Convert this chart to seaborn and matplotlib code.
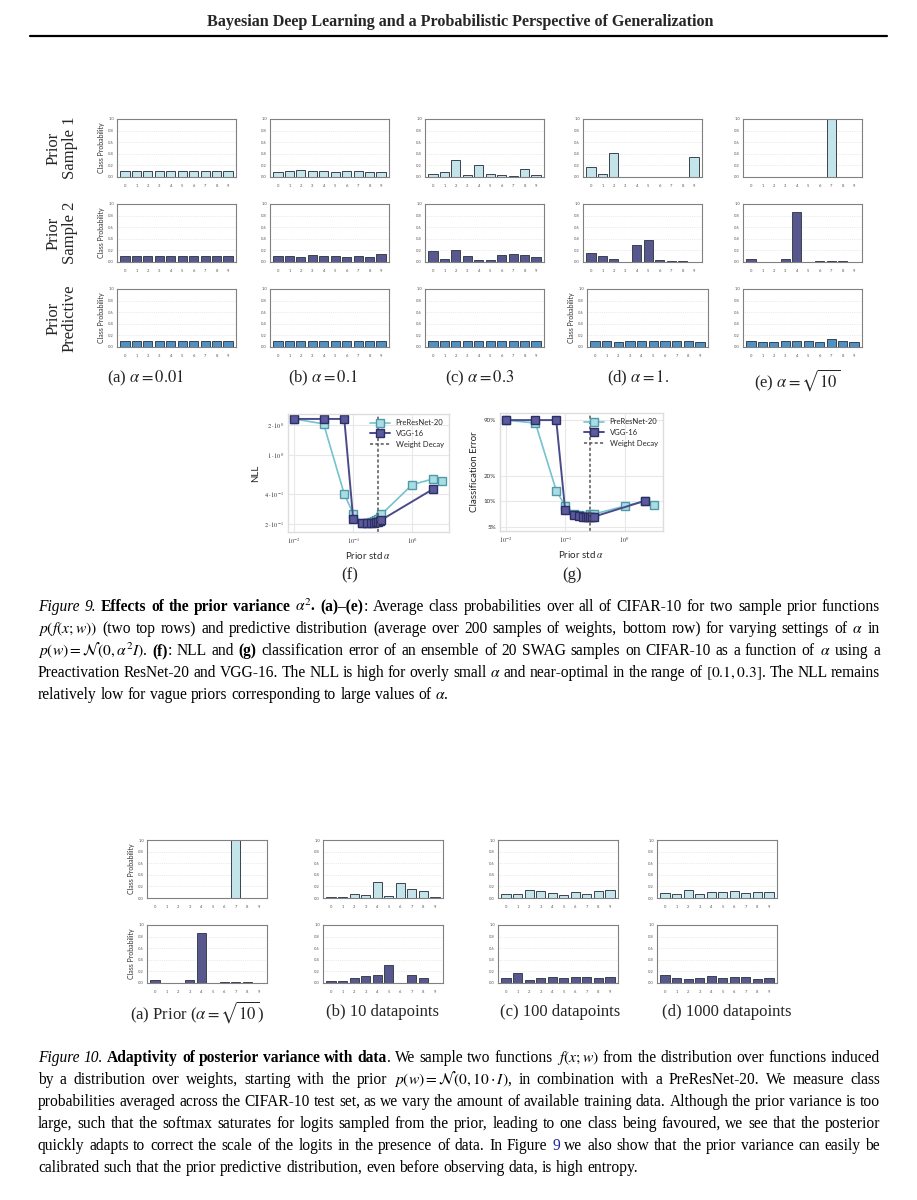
import numpy as np
import matplotlib
matplotlib.use("Agg")
import matplotlib.pyplot as plt
import seaborn as sns
from matplotlib.lines import Line2D
from matplotlib.ticker import FixedLocator, FixedFormatter, NullLocator

# ---------------- data ----------------
classes = list(range(10))

# Figure 9 (a)-(e): prior sample 1 / prior sample 2 / prior predictive
s1_a = [0.10, 0.10, 0.10, 0.10, 0.10, 0.10, 0.10, 0.10, 0.10, 0.10]
s1_b = [0.085, 0.10, 0.12, 0.10, 0.10, 0.08, 0.10, 0.10, 0.08, 0.09]
s1_c = [0.05, 0.08, 0.30, 0.04, 0.21, 0.06, 0.04, 0.02, 0.145, 0.04]
s1_d = [0.17, 0.06, 0.42, 0.003, 0.003, 0.003, 0.003, 0.003, 0.003, 0.34]
s1_e = [0.005, 0.008, 0.004, 0.004, 0.004, 0.004, 0.004, 1.0, 0.004, 0.004]

s2_a = [0.10, 0.10, 0.10, 0.10, 0.10, 0.10, 0.10, 0.10, 0.10, 0.10]
s2_b = [0.10, 0.10, 0.09, 0.12, 0.10, 0.11, 0.09, 0.10, 0.08, 0.13]
s2_c = [0.19, 0.05, 0.20, 0.10, 0.03, 0.03, 0.12, 0.135, 0.12, 0.085]
s2_d = [0.15, 0.11, 0.06, 0.003, 0.285, 0.375, 0.03, 0.01, 0.02, 0.005]
s2_e = [0.06, 0.005, 0.005, 0.05, 0.87, 0.005, 0.02, 0.01, 0.01, 0.005]

pp_a = [0.10, 0.10, 0.10, 0.10, 0.10, 0.10, 0.10, 0.10, 0.10, 0.10]
pp_b = [0.10, 0.10, 0.10, 0.10, 0.10, 0.10, 0.10, 0.10, 0.10, 0.10]
pp_c = [0.10, 0.10, 0.10, 0.105, 0.10, 0.105, 0.10, 0.10, 0.10, 0.10]
pp_d = [0.10, 0.10, 0.09, 0.10, 0.10, 0.11, 0.10, 0.10, 0.10, 0.09]
pp_e = [0.10, 0.09, 0.09, 0.10, 0.10, 0.10, 0.08, 0.13, 0.11, 0.08]

col_titles9 = [r"(a) $\alpha=0.01$", r"(b) $\alpha=0.1$", r"(c) $\alpha=0.3$",
               r"(d) $\alpha=1.$", r"(e) $\alpha=\sqrt{10}$"]
row_titles9 = ["Prior\nSample 1", "Prior\nSample 2", "Prior\nPredictive"]

# Figure 9 (f),(g)
alphas_pre = [0.01, 0.0316, 0.0707, 0.1, 0.141, 0.173, 0.2, 0.224, 0.245, 0.265, 0.283, 0.3, 1.0, 2.236, 3.162]
nll_pre = [2.30, 2.05, 0.40, 0.255, 0.205, 0.205, 0.21, 0.215, 0.22, 0.225, 0.235, 0.25, 0.50, 0.57, 0.54]
err_pre = [0.90, 0.83, 0.134, 0.089, 0.072, 0.069, 0.068, 0.068, 0.068, 0.072, 0.070, 0.071, 0.088, 0.102, 0.092]
alphas_vgg = [0.01, 0.0316, 0.0707, 0.1, 0.141, 0.173, 0.2, 0.224, 0.245, 0.265, 0.283, 0.3, 2.236]
nll_vgg = [2.30, 2.30, 2.30, 0.225, 0.205, 0.205, 0.205, 0.205, 0.21, 0.21, 0.215, 0.22, 0.45]
err_vgg = [0.90, 0.90, 0.90, 0.079, 0.070, 0.067, 0.066, 0.066, 0.065, 0.065, 0.066, 0.066, 0.102]
weight_decay_alpha = 0.26

# Figure 10
f10_s1_a = s1_e
f10_s2_a = s2_e
f10_s1_b = [0.015, 0.01, 0.07, 0.05, 0.283, 0.03, 0.26, 0.15, 0.12, 0.025]
f10_s2_b = [0.03, 0.04, 0.087, 0.128, 0.135, 0.314, 0.005, 0.145, 0.08, 0.005]
f10_s1_c = [0.074, 0.07, 0.13, 0.12, 0.09, 0.06, 0.10, 0.07, 0.12, 0.13]
f10_s2_c = [0.09, 0.168, 0.06, 0.09, 0.095, 0.09, 0.10, 0.11, 0.08, 0.10]
f10_s1_d = [0.09, 0.07, 0.13, 0.07, 0.11, 0.10, 0.12, 0.08, 0.10, 0.11]
f10_s2_d = [0.13, 0.09, 0.07, 0.08, 0.12, 0.08, 0.11, 0.10, 0.07, 0.09]
col_titles10 = [r"(a) Prior ($\alpha=\sqrt{10}$)", "(b) 10 datapoints",
                "(c) 100 datapoints", "(d) 1000 datapoints"]

# ---------------- style ----------------
sns.set_style("white")
plt.rcParams["font.family"] = ["Lato", "DejaVu Sans"]
plt.rcParams["mathtext.fontset"] = "stix"

W, H = 917, 1200
fig = plt.figure(figsize=(W / 100, H / 100), dpi=100)
SERIF = "Liberation Serif"

LIGHT = "#c3e5ea"
DARK = "#58588f"
BLUE = "#4f91c3"
EDGE = "#3a4250"


def box(l, t, r, b):
    return [l / W, 1 - b / H, (r - l) / W, (b - t) / H]


def bar_ax(rect, vals, color, ylabel=False):
    ax = fig.add_axes(rect)
    sns.barplot(x=classes, y=vals, ax=ax, color=color, edgecolor=EDGE,
                linewidth=0.7, width=0.8, saturation=1)
    ax.set_ylim(0, 1.0)
    ax.set_xlim(-0.7, 9.7)
    ax.set_yticks(np.arange(0, 1.01, 0.2))
    ax.set_yticklabels([f"{v:.1f}" for v in np.arange(0, 1.01, 0.2)])
    ax.tick_params(axis="both", labelsize=3, length=1.2, width=0.4, colors="#555555", pad=1)
    ax.tick_params(axis="x", pad=4)
    ax.yaxis.grid(True, color="#d8d8d8", lw=0.5, ls=":")
    ax.set_axisbelow(True)
    for s in ax.spines.values():
        s.set_color("#808080")
        s.set_linewidth(0.8)
    ax.set_xlabel("")
    if ylabel:
        ax.set_ylabel("Class Probability", fontsize=5, labelpad=2, color="#333333")
    else:
        ax.set_ylabel("")
    return ax


# ---------------- header ----------------
fig.text(460 / W, 1 - 22 / H,
         "Bayesian Deep Learning and a Probabilistic Perspective of Generalization",
         ha="center", va="center", family=SERIF, weight="bold", fontsize=11.6)
fig.add_artist(Line2D([30 / W, 887 / W], [1 - 35.5 / H, 1 - 35.5 / H], color="black", lw=1.6))

# ---------------- Figure 9 grid ----------------
lefts9 = [117, 270, 425, 583, 743]
tops9 = [119, 204, 289]
rows9 = [[s1_a, s1_b, s1_c, s1_d, s1_e],
         [s2_a, s2_b, s2_c, s2_d, s2_e],
         [pp_a, pp_b, pp_c, pp_d, pp_e]]
colors9 = [LIGHT, DARK, BLUE]
for ri, (row, top) in enumerate(zip(rows9, tops9)):
    for ci, (vals, left) in enumerate(zip(row, lefts9)):
        l, r = left, left + 119
        yl = ci == 0
        if ri == 2 and ci == 3:
            l, r = 587, 708
            yl = True
        bar_ax(box(l, top, r, top + 58), vals, colors9[ri], ylabel=yl)
    fig.text(62 / W, 1 - (top + 29) / H, row_titles9[ri], rotation=90, ha="center",
             va="center", multialignment="center", family=SERIF, fontsize=12, linespacing=1.0)

cap9_x = [146, 323, 480, 638, 797]
cap9_y = [378, 378, 378, 378, 380]
for t, x, y in zip(col_titles9, cap9_x, cap9_y):
    fig.text(x / W, 1 - y / H, t, ha="center", va="center", family=SERIF, fontsize=12)

# ---------------- Figure 9 (f), (g) ----------------
PRE_LINE, PRE_FACE, PRE_EDGE = "#74c3cd", "#a9dce3", "#4f9aa6"
VGG_LINE, VGG_FACE, VGG_EDGE = "#4b4b8c", "#5a5a9c", "#2e2e66"


def curve_ax(rect, ypre, yvgg, ylabel, xlim, ylim, yticks, yticklabels):
    ax = fig.add_axes(rect)
    sns.lineplot(x=alphas_pre, y=ypre, ax=ax, color=PRE_LINE, marker="s", markersize=6,
                 markerfacecolor=PRE_FACE, markeredgecolor=PRE_EDGE, markeredgewidth=1.0,
                 lw=1.2, label="PreResNet-20")
    sns.lineplot(x=alphas_vgg, y=yvgg, ax=ax, color=VGG_LINE, marker="s", markersize=6,
                 markerfacecolor=VGG_FACE, markeredgecolor=VGG_EDGE, markeredgewidth=1.0,
                 lw=1.4, label="VGG-16")
    ax.axvline(weight_decay_alpha, color="#555555", lw=1.1, ls=(0, (2, 1.5)), label="Weight Decay")
    ax.set_xscale("log")
    ax.set_yscale("log")
    ax.set_xlim(*xlim)
    ax.set_ylim(*ylim)
    ax.yaxis.set_major_locator(FixedLocator(yticks))
    ax.yaxis.set_major_formatter(FixedFormatter(yticklabels))
    ax.yaxis.set_minor_locator(NullLocator())
    ax.xaxis.set_major_locator(FixedLocator([0.01, 0.1, 1.0]))
    ax.xaxis.set_major_formatter(FixedFormatter([r"$10^{-2}$", r"$10^{-1}$", r"$10^{0}$"]))
    ax.xaxis.set_minor_locator(NullLocator())
    ax.grid(True, color="#e8e8e8", lw=0.8)
    ax.set_axisbelow(True)
    for s in ax.spines.values():
        s.set_color("#dddddd")
        s.set_linewidth(1.0)
    ax.tick_params(labelsize=4.5, length=0, pad=3, colors="#333333")
    ax.set_xlabel(r"Prior std $\alpha$", fontsize=7, labelpad=3)
    ax.set_ylabel(ylabel, fontsize=7, labelpad=3)
    ax.legend(loc="upper right", frameon=False, fontsize=5.5, handlelength=2.6,
              borderaxespad=0.3, labelspacing=0.5)
    return ax


curve_ax(box(288, 414, 449, 532), nll_pre, nll_vgg, "NLL", (0.0079, 4.17), (0.166, 2.58),
         [0.2, 0.4, 1.0, 2.0],
         [r"$2\cdot10^{-1}$", r"$4\cdot10^{-1}$", r"$1\cdot10^{0}$", r"$2\cdot10^{0}$"])
curve_ax(box(500, 413, 663, 531), err_pre, err_vgg, "Classification Error", (0.008, 4.43),
         (0.045, 1.09), [0.05, 0.1, 0.2, 0.9], ["5%", "10%", "20%", "90%"])
fig.text(350 / W, 1 - 575 / H, "(f)", ha="center", va="center", family=SERIF, fontsize=12)
fig.text(572 / W, 1 - 575 / H, "(g)", ha="center", va="center", family=SERIF, fontsize=12)

# ---------------- Figure 10 grid ----------------
lefts10 = [147, 323, 498, 657]
tops10 = [840, 925]
rows10 = [[f10_s1_a, f10_s1_b, f10_s1_c, f10_s1_d],
          [f10_s2_a, f10_s2_b, f10_s2_c, f10_s2_d]]
for ri, (row, top) in enumerate(zip(rows10, tops10)):
    for ci, (vals, left) in enumerate(zip(row, lefts10)):
        bar_ax(box(left, top, left + 120, top + 58), vals, [LIGHT, DARK][ri], ylabel=(ci == 0))
cap10_x = [197, 382, 560, 727]
for t, x in zip(col_titles10, cap10_x):
    fig.text(x / W, 1 - 1012 / H, t, ha="center", va="center", family=SERIF, fontsize=12)

# ---------------- captions ----------------
renderer = fig.canvas.get_renderer()
X0, X1 = 38, 880


def split_words(segs):
    words = []
    prev_end_space = True
    for text, style in segs:
        parts = text.split(" ")
        glue = bool(words) and not text.startswith(" ") and not prev_end_space
        for i, p in enumerate(parts):
            if not p:
                continue
            if i == 0 and glue:
                words[-1].append((p, style))
            else:
                words.append([(p, style)])
        prev_end_space = text.endswith(" ")
    return words


def make_words(words, size):
    objs = []
    for w in words:
        wo = []
        for t, st in w:
            o = fig.text(0, 0, t, fontsize=size, family=SERIF,
                         weight="bold" if "b" in st else "normal",
                         style="italic" if "i" in st else "normal",
                         color="#2020a0" if "l" in st else "black",
                         ha="left", va="baseline")
            wo.append((o, o.get_window_extent(renderer).width))
        objs.append(wo)
    return objs


def fit_size(segs, start=12.2, min_gap=3.2):
    words = split_words(segs)
    size = start
    while size > 8:
        objs = make_words(words, size)
        tot = sum(w for wo in objs for _, w in wo)
        for wo in objs:
            for o, _ in wo:
                o.remove()
        if tot + min_gap * (len(words) - 1) <= X1 - X0:
            return size
        size -= 0.1
    return size


def para_line(y, segs, size, justify=True):
    words = split_words(segs)
    objs = make_words(words, size)
    widths = [sum(w for _, w in wo) for wo in objs]
    nat = size * 100 / 72 * 0.25
    gap = (X1 - X0 - sum(widths)) / (len(objs) - 1) if justify else nat
    x = X0
    for wo, ww in zip(objs, widths):
        xx = x
        for o, w in wo:
            o.set_position((xx / W, 1 - y / H))
            xx += w
        x += ww + gap


cap9 = [
    [("Figure 9.", "i"), (r" Effects of the prior variance $\alpha^2$.", "b"), (" (a)–(e)", "b"),
     (": Average class probabilities over all of CIFAR-10 for two sample prior functions", "n")],
    [(r"$p(f(x;w))$ (two top rows) and predictive distribution (average over 200 samples of weights, bottom row) for varying settings of $\alpha$ in", "n")],
    [(r"$p(w)=\mathcal{N}(0,\alpha^2I)$. ", "n"), ("(f)", "b"), (": NLL and ", "n"), ("(g)", "b"),
     (" classification error of an ensemble of 20 SWAG samples on CIFAR-10 as a function of $\\alpha$ using a", "n")],
    [(r"Preactivation ResNet-20 and VGG-16. The NLL is high for overly small $\alpha$ and near-optimal in the range of $[0.1,0.3]$. The NLL remains", "n")],
    [(r"relatively low for vague priors corresponding to large values of $\alpha$.", "n")],
]
cap10 = [
    [("Figure 10.", "i"), (" Adaptivity of posterior variance with data", "b"),
     (r". We sample two functions $f(x;w)$ from the distribution over functions induced", "n")],
    [(r"by a distribution over weights, starting with the prior $p(w)=\mathcal{N}(0,10\cdot{I})$, in combination with a PreResNet-20. We measure class", "n")],
    [("probabilities averaged across the CIFAR-10 test set, as we vary the amount of available training data. Although the prior variance is too", "n")],
    [("large, such that the softmax saturates for logits sampled from the prior, leading to one class being favoured, we see that the posterior", "n")],
    [("quickly adapts to correct the scale of the logits in the presence of data. In Figure ", "n"), ("9", "l"),
     (" we also show that the prior variance can easily be", "n")],
    [("calibrated such that the prior predictive distribution, even before observing data, is high entropy.", "n")],
]

cap_size = min(fit_size(s) for s in cap9[:-1] + cap10[:-1])
for i, segs in enumerate(cap9):
    para_line(611 + 22 * i, segs, cap_size, justify=(i < len(cap9) - 1))
for i, segs in enumerate(cap10):
    para_line(1062 + 22 * i, segs, cap_size, justify=(i < len(cap10) - 1))

fig.savefig("out.png", dpi=100, facecolor="white")
